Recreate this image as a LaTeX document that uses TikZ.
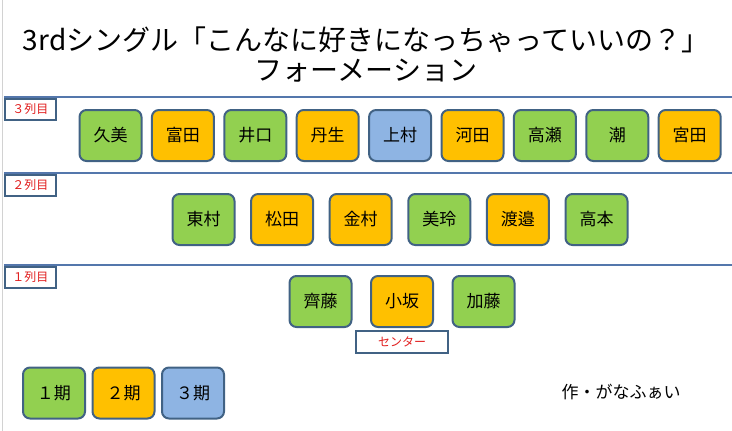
\documentclass[tikz,border=0pt]{standalone}
\usepackage{fontspec}
\newfontfamily\jpfont{Noto Sans CJK JP}
\usepackage{tikz}
\usetikzlibrary{positioning}
\definecolor{gen1}{RGB}{146,208,80}
\definecolor{gen2}{RGB}{255,192,0}
\definecolor{gen3}{RGB}{142,180,227}
\definecolor{frame}{RGB}{65,98,132}
\definecolor{rowline}{RGB}{84,119,172}
\definecolor{labelred}{RGB}{225,30,30}
\tikzset{
member_box/.style={rectangle, rounded corners=7pt, draw=frame, line width=2pt, minimum width=62pt, minimum height=51pt, inner sep=0pt, font=\jpfont\fontsize{17}{20}\selectfont},
member_1/.style={member_box, fill=gen1},
member_2/.style={member_box, fill=gen2},
member_3/.style={member_box, fill=gen3},
row_line/.style={draw=rowline, line width=2.5pt},
row_label/.style={rectangle, draw=frame, line width=2pt, fill=white, minimum width=51pt, minimum height=21pt, inner sep=0pt, text=labelred, font=\jpfont\fontsize{12}{14}\selectfont},
title_text/.style={align=center, font=\jpfont\fontsize{28}{30}\selectfont},
credit_text/.style={font=\jpfont\fontsize{17}{20}\selectfont}
}

\begin{document}
\begin{tikzpicture}[x=1pt, y=-1pt]
    \useasboundingbox (0,0) rectangle (732,431);
    \draw[gray!35, line width=1pt] (2,0) -- (2,431);
    \node[title_text] (title) at (366,55) {3rdシングル「こんなに好きになっちゃっていいの？」\\フォーメーション};

    \draw[row_line] (4,97) -- (732,97);
    \draw[row_line] (4,173) -- (732,173);
    \draw[row_line] (4,265) -- (732,265);
    \node[row_label] (label_3) at (30.5,109) {３列目};
    \node[row_label] (label_2) at (30.5,185) {２列目};
    \node[row_label] (label_1) at (30.5,277) {１列目};

    \node[member_1] (3_1) at (110.5,135.5) {久美};
    \node[member_2] (3_2) [right=8.4pt of 3_1] {富田};
    \node[member_1] (3_3) [right=8.4pt of 3_2] {井口};
    \node[member_2] (3_4) [right=8.4pt of 3_3] {丹生};
    \node[member_3] (3_5) [right=8.4pt of 3_4] {上村};
    \node[member_2] (3_6) [right=8.4pt of 3_5] {河田};
    \node[member_1] (3_7) [right=8.4pt of 3_6] {高瀬};
    \node[member_1] (3_8) [right=8.4pt of 3_7] {潮};
    \node[member_2] (3_9) [right=8.4pt of 3_8] {宮田};

    \node[member_1] (2_1) at (203.5,219.5) {東村};
    \node[member_2] (2_2) [right=14.6pt of 2_1] {松田};
    \node[member_2] (2_3) [right=14.6pt of 2_2] {金村};
    \node[member_1] (2_4) [right=14.6pt of 2_3] {美玲};
    \node[member_2] (2_5) [right=14.6pt of 2_4] {渡邉};
    \node[member_1] (2_6) [right=14.6pt of 2_5] {高本};

    \node[member_2] (1_2) at (402,301.5) {小坂};
    \node[member_1] (1_1) [left=17.5pt of 1_2] {齊藤};
    \node[member_1] (1_3) [right=17.5pt of 1_2] {加藤};
    \node[row_label, minimum width=92pt, minimum height=22pt] (center) [below=2pt of 1_2] {センター};

    \node[member_1] (gen_1) at (54,393) {１期};
    \node[member_2] (gen_2) [right=5.5pt of gen_1] {２期};
    \node[member_3] (gen_3) [right=5.5pt of gen_2] {３期};
    \node[credit_text] (credit) at (621,392) {作・がなふぁい};
\end{tikzpicture}
\end{document}
